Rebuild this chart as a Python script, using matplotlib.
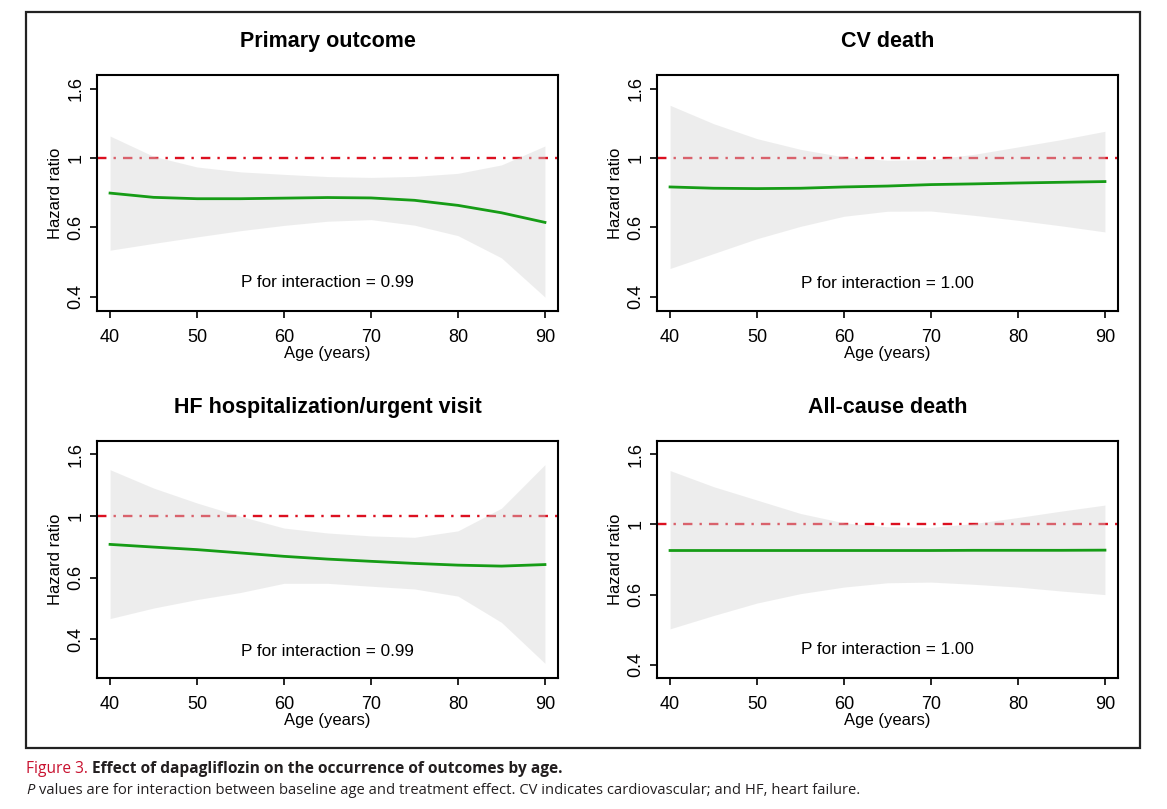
import matplotlib
matplotlib.use("Agg")
import matplotlib.pyplot as plt
from matplotlib.patches import Rectangle
from matplotlib.ticker import FixedLocator, FixedFormatter, NullLocator

plt.rcParams['font.family'] = ['Liberation Sans', 'DejaVu Sans']

# --- data (hazard ratio vs age) ---
ages = [40, 45, 50, 55, 60, 65, 70, 75, 80, 85, 90]

hr_primary = [0.792, 0.770, 0.763, 0.763, 0.766, 0.769, 0.767, 0.755, 0.730, 0.695, 0.652]
up_primary = [1.157, 1.011, 0.942, 0.912, 0.897, 0.884, 0.879, 0.885, 0.903, 0.955, 1.083]
lo_primary = [0.542, 0.567, 0.592, 0.617, 0.639, 0.657, 0.664, 0.640, 0.597, 0.515, 0.397]

hr_cv = [0.825, 0.818, 0.816, 0.818, 0.825, 0.830, 0.838, 0.842, 0.847, 0.851, 0.855]
up_cv = [1.419, 1.256, 1.137, 1.059, 1.007, 0.985, 0.989, 1.025, 1.076, 1.130, 1.194]
lo_cv = [0.480, 0.530, 0.585, 0.635, 0.679, 0.702, 0.703, 0.683, 0.661, 0.637, 0.612]

hr_hf = [0.809, 0.793, 0.778, 0.759, 0.740, 0.725, 0.713, 0.702, 0.693, 0.688, 0.696]
up_hf = [1.413, 1.232, 1.102, 0.998, 0.914, 0.881, 0.862, 0.853, 0.895, 1.060, 1.467]
lo_hf = [0.465, 0.503, 0.536, 0.565, 0.605, 0.605, 0.592, 0.580, 0.550, 0.452, 0.333]

hr_all = [0.843, 0.843, 0.843, 0.843, 0.843, 0.843, 0.843, 0.844, 0.844, 0.844, 0.845]
up_all = [1.425, 1.282, 1.174, 1.075, 1.011, 0.985, 0.981, 1.007, 1.047, 1.092, 1.136]
lo_all = [0.504, 0.550, 0.597, 0.635, 0.663, 0.682, 0.685, 0.675, 0.663, 0.646, 0.631]

titles = ["Primary outcome", "CV death", "HF hospitalization/urgent visit", "All-cause death"]
p_texts = ["P for interaction = 0.99", "P for interaction = 1.00",
           "P for interaction = 0.99", "P for interaction = 1.00"]

# y ticks sit at 10^-0.4 .. 10^0.2 on a log axis, labelled rounded
ytick_vals = [10 ** -0.4, 10 ** -0.2, 1.0, 10 ** 0.2]
ytick_labels = ["0.4", "0.6", "1", "1.6"]
xticks = [40, 50, 60, 70, 80, 90]

W, H = 1167, 809
fig = plt.figure(figsize=(W / 100, H / 100), dpi=100)

def box(l, t, r, b):
    return [l / W, 1 - b / H, (r - l) / W, (b - t) / H]

panels = [
    (box(97, 75, 558, 311), hr_primary, up_primary, lo_primary, (0.362, 1.735), 0.12),
    (box(657, 75, 1118, 311), hr_cv, up_cv, lo_cv, (0.362, 1.735), 0.115),
    (box(97, 441, 558, 678), hr_hf, up_hf, lo_hf, (0.2985, 1.75), 0.11),
    (box(657, 441, 1118, 678), hr_all, up_all, lo_all, (0.365, 1.73), 0.12),
]

for i, (rect, hr, up, lo, ylim, py) in enumerate(panels):
    ax = fig.add_axes(rect)
    ax.set_yscale('log')
    ax.axhline(1.0, color='#dc1020', lw=1.7, dashes=(4, 3, 1, 3), zorder=1)
    ax.fill_between(ages, lo, up, color='#d6d6d6', alpha=0.42, lw=0, zorder=2)
    ax.plot(ages, hr, color='#169c16', lw=2.0, zorder=3)
    ax.set_xlim(38.5, 91.5)
    ax.set_ylim(*ylim)
    ax.yaxis.set_major_locator(FixedLocator(ytick_vals))
    ax.yaxis.set_major_formatter(FixedFormatter(ytick_labels))
    ax.yaxis.set_minor_locator(NullLocator())
    ax.set_xticks(xticks)
    ax.set_xticklabels([str(v) for v in xticks])
    ax.tick_params(axis='both', direction='out', length=5, width=1.2,
                   labelsize=13, colors='black')
    ax.tick_params(axis='x', pad=8)
    ax.tick_params(axis='y', pad=4)
    for lab in ax.get_yticklabels():
        lab.set_rotation(90)
        lab.set_va('center')
    for sp in ax.spines.values():
        sp.set_linewidth(1.5)
    ax.set_xlabel("Age (years)", fontsize=12, labelpad=0)
    ax.set_ylabel("Hazard ratio", fontsize=12, labelpad=3)
    ax.set_title(titles[i], fontsize=15.5, fontweight='bold', pad=20)
    ax.text(0.5, py, p_texts[i], transform=ax.transAxes, ha='center', va='center',
            fontsize=12.3)

# outer frame around the four panels
fig.patches.append(Rectangle((26 / W, 1 - 748 / H), (1140 - 26) / W, (748 - 12) / H,
                             transform=fig.transFigure, fill=False, lw=1.6,
                             edgecolor='#222222'))

# caption
cap_font = ['Open Sans', 'DejaVu Sans']
t1 = fig.text(26 / W, 1 - 769 / H, "Figure 3.", color='#c8102e', fontsize=11.2,
              family=cap_font, va='center', ha='left')
fig.canvas.draw()
bb = t1.get_window_extent()
fig.text(bb.x1 / W + 4 / W, 1 - 769 / H,
         "Effect of dapagliflozin on the occurrence of outcomes by age.",
         color='#231f20', fontsize=11.2, fontweight='bold', family=cap_font,
         va='center', ha='left')
t2 = fig.text(26 / W, 1 - 790 / H, "P", color='#231f20', fontsize=10.6,
              style='italic', family=cap_font, va='center', ha='left')
fig.canvas.draw()
bb2 = t2.get_window_extent()
fig.text(bb2.x1 / W + 5 / W, 1 - 790 / H,
         "values are for interaction between baseline age and treatment effect. "
         "CV indicates cardiovascular; and HF, heart failure.",
         color='#231f20', fontsize=10.6, family=cap_font, va='center', ha='left')

fig.savefig("out.png", dpi=100, facecolor='white')
